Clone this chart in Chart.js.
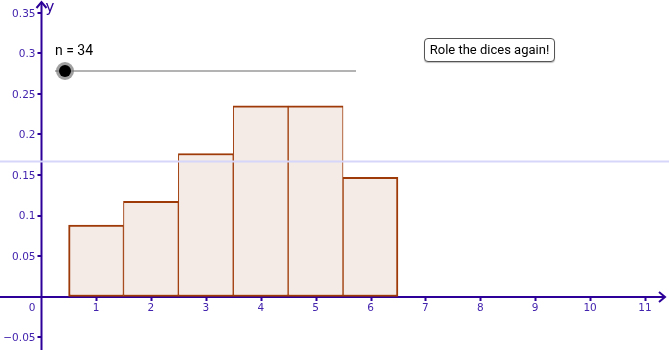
<!DOCTYPE html>
<html>
<head>
<meta charset="utf-8">
<script src="https://cdn.jsdelivr.net/npm/chart.js@4"></script>
<style>
html,body{margin:0;padding:0;background:#fff;}
#wrap{position:relative;width:669px;height:350px;overflow:hidden;}
canvas{display:block;}
#nlabel{position:absolute;left:55px;top:42px;font:14px Roboto, sans-serif;color:#000;white-space:nowrap;}
#btn{position:absolute;left:424px;top:38px;width:131px;height:24px;box-sizing:border-box;border:1px solid #555;border-radius:4px;font:13px Roboto, sans-serif;color:#000;text-align:center;line-height:22px;background:#fff;box-shadow:0 1px 1px rgba(0,0,0,0.25);white-space:nowrap;}
</style>
</head>
<body>
<div id="wrap">
<canvas id="c" width="669" height="350"></canvas>
<div id="nlabel">n = 34</div>
<div id="btn">Role the dices again!</div>
</div>
<script>
// ---- data ----
const categories = [1, 2, 3, 4, 5, 6];
const relFrequency = [0.0882, 0.1176, 0.1765, 0.2353, 0.2353, 0.1471];
const expectedValue = 0.1667;
const xTickValues = [1, 2, 3, 4, 5, 6, 7, 8, 9, 10, 11];
const xTickLabels = ["1", "2", "3", "4", "5", "6", "7", "8", "9", "10", "11"];
const yTickValues = [-0.05, 0.05, 0.1, 0.15, 0.2, 0.25, 0.3, 0.35];
const yTickLabels = ["\u22120.05", "0.05", "0.1", "0.15", "0.2", "0.25", "0.3", "0.35"];

const axisColor = '#2c0099';
const labelColor = '#4324ae';

const axesPlugin = {
  id: 'ggbAxes',
  beforeDatasetsDraw(chart) {
    const ctx = chart.ctx;
    const xs = chart.scales.x, ys = chart.scales.y;
    const x0 = Math.round(xs.getPixelForValue(0)) + 0.5;
    const y0 = Math.round(ys.getPixelForValue(0));
    const W = chart.width, H = chart.height;
    ctx.save();
    ctx.strokeStyle = axisColor;
    ctx.lineWidth = 2;
    ctx.lineCap = 'butt';
    // y axis
    ctx.beginPath(); ctx.moveTo(x0, H); ctx.lineTo(x0, 2); ctx.stroke();
    ctx.beginPath(); ctx.moveTo(x0 - 5, 8); ctx.lineTo(x0, 2); ctx.lineTo(x0 + 5, 8); ctx.stroke();
    // x axis
    ctx.beginPath(); ctx.moveTo(0, y0); ctx.lineTo(W - 4, y0); ctx.stroke();
    ctx.beginPath(); ctx.moveTo(W - 10, y0 - 5); ctx.lineTo(W - 4, y0); ctx.lineTo(W - 10, y0 + 5); ctx.stroke();
    // ticks
    ctx.beginPath();
    yTickValues.forEach(v => {
      const py = Math.round(ys.getPixelForValue(v));
      ctx.moveTo(x0 - 4, py); ctx.lineTo(x0, py);
    });
    xTickValues.forEach(v => {
      const px = Math.round(xs.getPixelForValue(v)) + 0.5;
      ctx.moveTo(px, y0); ctx.lineTo(px, y0 + 4);
    });
    ctx.stroke();
    // labels
    ctx.fillStyle = labelColor;
    ctx.font = '10.5px "DejaVu Sans", sans-serif';
    ctx.textAlign = 'right'; ctx.textBaseline = 'middle';
    yTickValues.forEach((v, i) => {
      ctx.fillText(yTickLabels[i], x0 - 6, ys.getPixelForValue(v) + 1);
    });
    ctx.fillText('0', x0 - 6, y0 + 11);
    ctx.textAlign = 'center'; ctx.textBaseline = 'top';
    xTickValues.forEach((v, i) => {
      ctx.fillText(xTickLabels[i], xs.getPixelForValue(v), y0 + 6);
    });
    ctx.fillStyle = axisColor;
    ctx.font = '15px "DejaVu Sans", sans-serif';
    ctx.textAlign = 'left'; ctx.textBaseline = 'top';
    ctx.fillText('y', x0 + 4, 1);
    ctx.restore();
  },
  afterDraw(chart) {
    const ctx = chart.ctx;
    // slider
    const sx1 = 55, sx2 = 356, sy = 71, kx = 65;
    ctx.save();
    ctx.strokeStyle = '#9a9a9a';
    ctx.lineWidth = 1.5;
    ctx.beginPath(); ctx.moveTo(sx1, sy); ctx.lineTo(sx2, sy); ctx.stroke();
    ctx.fillStyle = 'rgba(120,120,120,0.7)';
    ctx.beginPath(); ctx.arc(kx, sy, 9, 0, Math.PI * 2); ctx.fill();
    ctx.fillStyle = '#000';
    ctx.beginPath(); ctx.arc(kx, sy, 6, 0, Math.PI * 2); ctx.fill();
    ctx.restore();
  }
};

new Chart(document.getElementById('c'), {
  type: 'bar',
  data: {
    datasets: [
      {
        type: 'line',
        order: 0,
        data: [{x: -2, y: expectedValue}, {x: 13, y: expectedValue}],
        borderColor: 'rgb(214,214,250)',
        borderWidth: 2,
        pointRadius: 0,
        fill: false
      },
      {
        type: 'bar',
        order: 1,
        data: categories.map((c, i) => ({x: c, y: relFrequency[i]})),
        backgroundColor: 'rgb(245,235,230)',
        borderColor: '#9e3a08',
        borderWidth: (c) => ({
          top: 2, bottom: 2,
          left: c.dataIndex === 0 ? 2 : 1,
          right: c.dataIndex === categories.length - 1 ? 2 : 1
        }),
        borderSkipped: false,
        barPercentage: 1,
        categoryPercentage: 1,
        grouped: false
      }
    ]
  },
  options: {
    responsive: false,
    animation: false,
    events: [],
    layout: {padding: 0},
    plugins: {legend: {display: false}, tooltip: {enabled: false}},
    scales: {
      x: {type: 'linear', offset: false, min: -0.749, max: 11.437, display: false},
      y: {type: 'linear', min: -0.066, max: 0.366, display: false}
    }
  },
  plugins: [axesPlugin]
});
</script>
</body>
</html>
